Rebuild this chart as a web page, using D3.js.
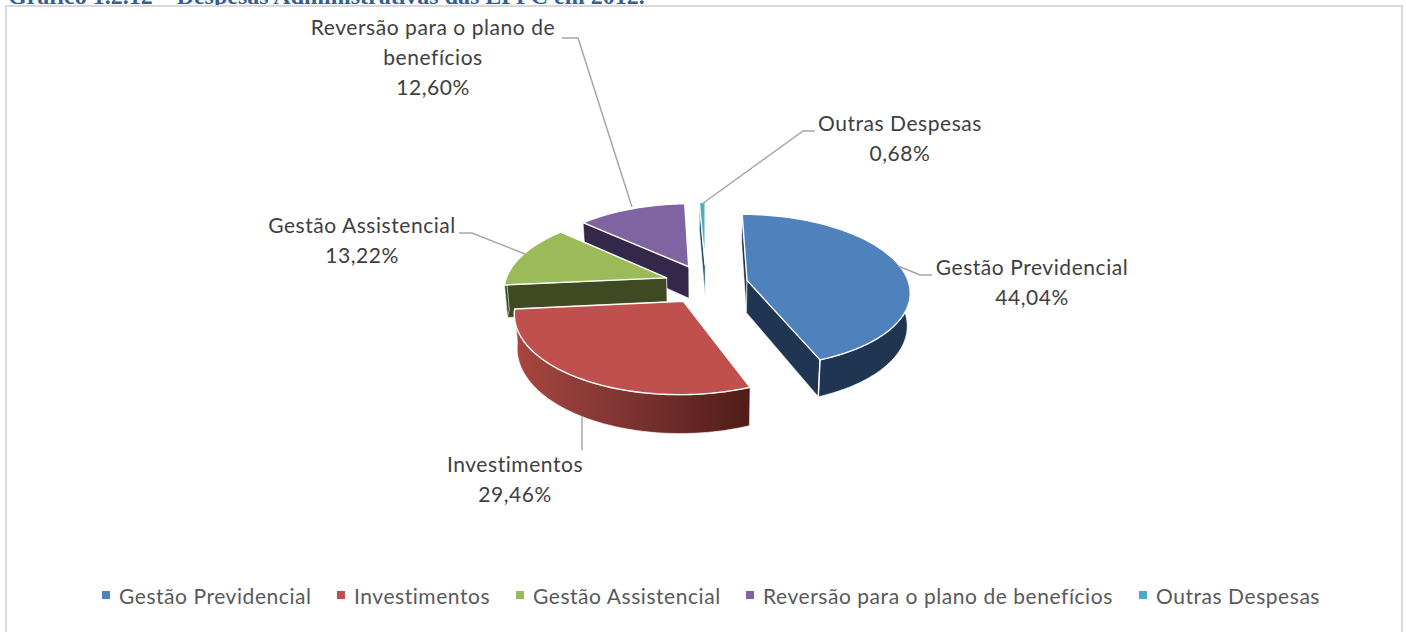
<!DOCTYPE html>
<html><head><meta charset="utf-8">
<script src="https://cdn.jsdelivr.net/npm/d3@7"></script>
<style>html,body{margin:0;padding:0;background:#fff}svg{display:block}</style>
</head><body><svg id="c" width="1406" height="632"></svg>
<script>
const categories = ["Gestão Previdencial","Investimentos","Gestão Assistencial","Reversão para o plano de benefícios","Outras Despesas"];
const shares = [44.04,29.46,13.22,12.60,0.68];
const shareLabels = ["44,04%","29,46%","13,22%","12,60%","0,68%"];
const topColors = ["#4f81bd","#c0504d","#9bbb59","#8064a2","#4bacc6"];
const wallColors = ["#1f3552","#4f1c17","#404a22","#33284a","#1c5565"];
const labelLines = [["Gestão Previdencial"],["Investimentos"],["Gestão Assistencial"],["Reversão para o plano de","benefícios"],["Outras Despesas"]];
const labelCentres = [[1032,275],[515,472],[362,233],[433,35],[900,131]];
const leaders = [
 [[898,266],[920,275],[932,275]],
 [[582,414],[582,450]],
 [[525,254],[472,233],[459,233]],
 [[632,207],[578,38],[562,38]],
 [[702,204],[803,131],[815,131]]
];
const title = "Gráfico 1.2.12 – Despesas Administrativas das EFPC em 2012.";

const svg = d3.select("#c");
const cx=706, cy=284, R=162, EXPLODE=42, TILT=0.468, K=0.134, DEPTH=32.5;
function project(X,W,drop){
  const s=1/(1-K*W/R);
  const shrink = drop?0.985:1;
  return [cx+X*s*shrink, cy+W*TILT*s+(drop?DEPTH*s:0)];
}
const pie=d3.pie().sort(null).startAngle(0).endAngle(2*Math.PI);
const arcs=pie(shares);
const defs=svg.append("defs");
const grad=defs.append("linearGradient").attr("id","redWall").attr("gradientUnits","userSpaceOnUse")
  .attr("x1",513).attr("x2",751).attr("y1",0).attr("y2",0);
grad.append("stop").attr("offset",0).attr("stop-color","#a8463f");
grad.append("stop").attr("offset",0.45).attr("stop-color","#803533");
grad.append("stop").attr("offset",1).attr("stop-color",wallColors[1]);

svg.append("text").attr("x",8).attr("y",3.5).attr("font-family","Liberation Serif").attr("font-weight","bold")
  .attr("font-size",24).attr("fill","#365f91").text(title);
svg.append("rect").attr("x",6).attr("y",6).attr("width",1396).attr("height",640)
  .attr("fill","#fff").attr("stroke","#d9d9d9").attr("stroke-width",2);

const line=d3.line();
function pts(a,b,drop,ex,ew){
  const n=Math.max(2,Math.ceil(Math.abs(b-a)/0.02));
  return d3.range(n+1).map(i=>{const t=a+(b-a)*i/n;return project(ex+R*Math.sin(t),ew-R*Math.cos(t),drop);});
}
const order=[4,3,2,0,1];
order.forEach(i=>{
  const d=arcs[i], mid=(d.startAngle+d.endAngle)/2;
  const ex=EXPLODE*Math.sin(mid), ew=-EXPLODE*Math.cos(mid);
  const g=svg.append("g");
  const apexT=project(ex,ew,false), apexB=project(ex,ew,true);
  [d.startAngle,d.endAngle].sort((p,q)=>Math.cos(q)-Math.cos(p)).forEach(t=>{
    const q=pts(t,t,false,ex,ew)[0], qb=pts(t,t,true,ex,ew)[0];
    g.append("path").attr("d",line([apexT,q,qb,apexB])+"Z")
      .attr("fill",i===1?"#a8463f":wallColors[i]).attr("stroke","#fff").attr("stroke-width",0.6);
  });
  const a=Math.max(d.startAngle,Math.PI/2), b=Math.min(d.endAngle,Math.PI*3/2);
  if(b>a){
    const top=pts(a,b,false,ex,ew), bot=pts(a,b,true,ex,ew).reverse();
    g.append("path").attr("d",line(top.concat(bot))+"Z")
      .attr("fill",i===1?"url(#redWall)":wallColors[i]).attr("stroke","#fff").attr("stroke-width",0.6);
    if(i===0){ const q=pts(d.endAngle,d.endAngle,false,ex,ew)[0], qb=pts(d.endAngle,d.endAngle,true,ex,ew)[0];
      g.append("path").attr("d",line([q,qb])).attr("stroke","#fff").attr("stroke-width",1.4);}
  }
  g.append("path").attr("d",line([apexT].concat(pts(d.startAngle,d.endAngle,false,ex,ew)))+"Z")
    .attr("fill",topColors[i]).attr("stroke","#fff").attr("stroke-width",1.4).attr("stroke-linejoin","round");
});

leaders.forEach((p,i)=>svg.insert("path",i===1?"g":null).attr("d",line(p)).attr("fill","none").attr("stroke","#a6a6a6").attr("stroke-width",1.5));

const FONT="Lato";
categories.forEach((c,i)=>{
  const ls=labelLines[i].concat([shareLabels[i]]);
  const [x,y0]=labelCentres[i];
  ls.forEach((t,j)=>svg.append("text").attr("x",x).attr("y",y0+j*30).attr("text-anchor","middle")
    .attr("font-family",FONT).attr("font-size",21).attr("letter-spacing",0.55).attr("fill","#404040").text(t));
});
const legendX=[102,337,516,746,1139];
categories.forEach((c,i)=>{
  svg.append("rect").attr("x",legendX[i]).attr("y",591).attr("width",8).attr("height",8).attr("fill",topColors[i]);
  svg.append("text").attr("x",legendX[i]+17).attr("y",604).attr("font-family",FONT).attr("font-size",21)
    .attr("letter-spacing",0.55).attr("fill","#595959").text(c);
});
</script></body></html>
